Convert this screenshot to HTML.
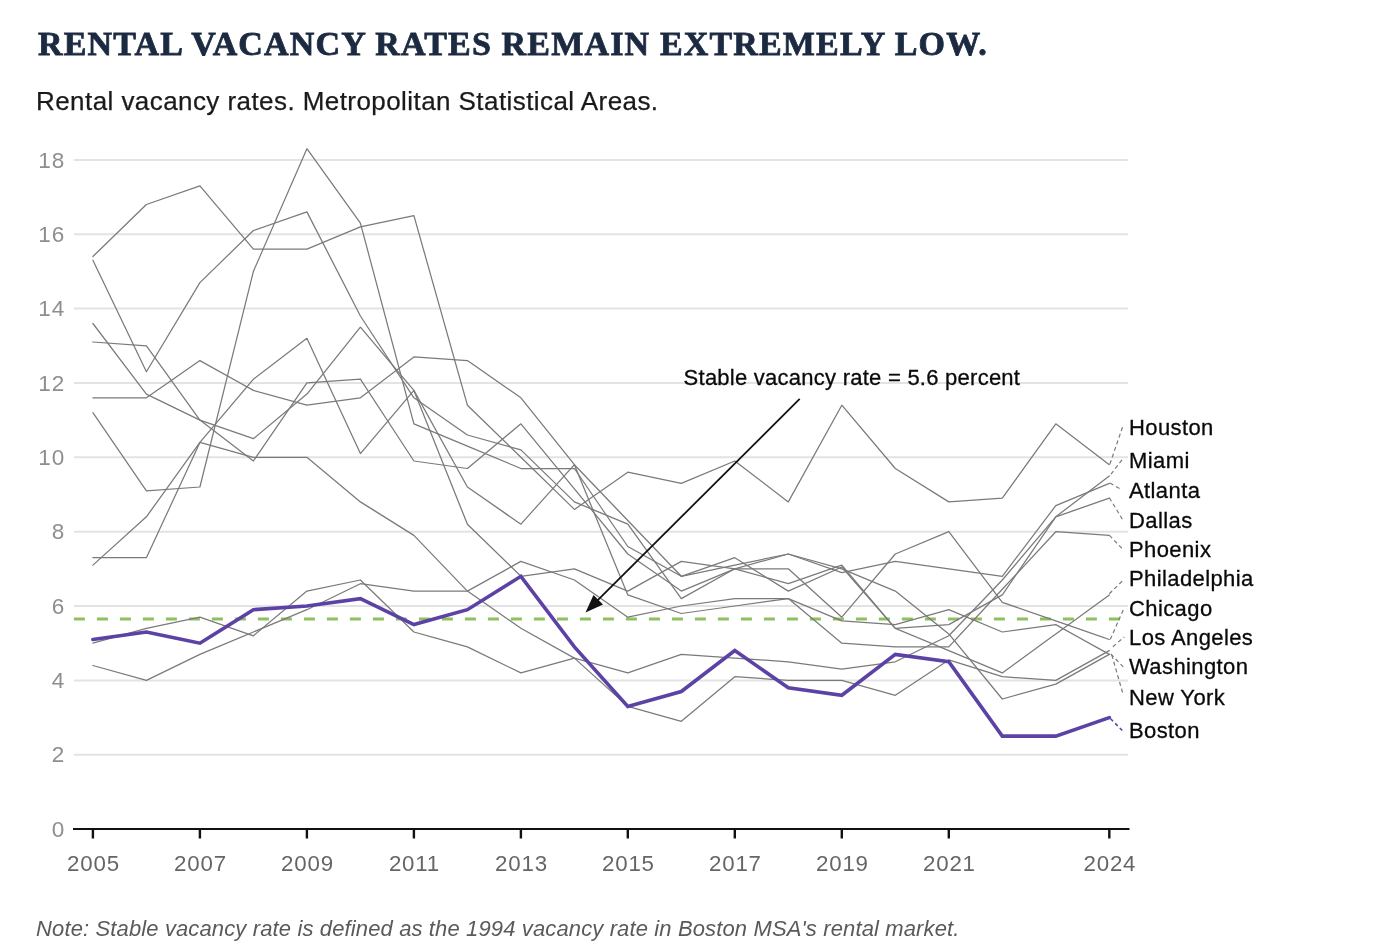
<!DOCTYPE html>
<html><head><meta charset="utf-8"><title>Rental vacancy rates</title>
<style>
html,body{margin:0;padding:0;background:#fff;}
body{width:1379px;height:946px;position:relative;overflow:hidden;font-family:"Liberation Sans",sans-serif;}
#title{position:absolute;left:37.7px;top:24px;font-family:"Liberation Serif",serif;font-weight:bold;font-size:34px;line-height:40px;color:#1c2a41;letter-spacing:1.16px;-webkit-text-stroke:0.8px #1c2a41;white-space:nowrap;}
#sub{position:absolute;left:36px;top:86px;font-size:26px;line-height:30px;letter-spacing:0.43px;-webkit-text-stroke:0.25px #1a1a1a;color:#1a1a1a;white-space:nowrap;}
#note{position:absolute;left:36.2px;top:916.1px;letter-spacing:0.13px;font-size:22px;line-height:26px;font-style:italic;color:#5a5a5a;white-space:nowrap;}
svg{position:absolute;left:0;top:0;will-change:transform;}
#title,#sub,#note{will-change:transform;}
text{font-family:"Liberation Sans",sans-serif;}
.yl{font-size:22.5px;fill:#8e8e8e;letter-spacing:0.9px;}
.xl{font-size:22.3px;fill:#666;letter-spacing:0.8px;}
.lab{font-size:22px;fill:#0a0a0a;stroke:#0a0a0a;stroke-width:0.3px;letter-spacing:0.4px;}
.ann{font-size:22px;fill:#0a0a0a;stroke:#0a0a0a;stroke-width:0.3px;letter-spacing:0.25px;}
</style></head><body>
<div id="title">RENTAL VACANCY RATES REMAIN EXTREMELY LOW.</div>
<div id="sub">Rental vacancy rates. Metropolitan Statistical Areas.</div>
<svg width="1379" height="946" viewBox="0 0 1379 946">
<line x1="74" x2="1128" y1="754.7" y2="754.7" stroke="#e3e3e3" stroke-width="2"/>
<line x1="74" x2="1128" y1="680.4" y2="680.4" stroke="#e3e3e3" stroke-width="2"/>
<line x1="74" x2="1128" y1="606.0" y2="606.0" stroke="#e3e3e3" stroke-width="2"/>
<line x1="74" x2="1128" y1="531.7" y2="531.7" stroke="#e3e3e3" stroke-width="2"/>
<line x1="74" x2="1128" y1="457.3" y2="457.3" stroke="#e3e3e3" stroke-width="2"/>
<line x1="74" x2="1128" y1="382.9" y2="382.9" stroke="#e3e3e3" stroke-width="2"/>
<line x1="74" x2="1128" y1="308.6" y2="308.6" stroke="#e3e3e3" stroke-width="2"/>
<line x1="74" x2="1128" y1="234.2" y2="234.2" stroke="#e3e3e3" stroke-width="2"/>
<line x1="74" x2="1128" y1="159.9" y2="159.9" stroke="#e3e3e3" stroke-width="2"/>
<line x1="73.9" x2="1120" y1="619.1" y2="619.1" stroke="#8fc05f" stroke-width="3" stroke-dasharray="11,12"/>
<path d="M92.9,256.5 L146.4,204.5 L199.9,185.9 L253.4,249.1 L306.9,249.1 L360.4,226.8 L413.9,215.6 L467.4,405.2 L520.9,457.3 L574.4,509.4 L627.8,472.2 L681.3,483.3 L734.8,461.0 L788.3,501.9 L841.8,405.2 L895.3,468.5 L948.8,501.9 L1002.3,498.2 L1055.8,423.8 L1109.3,464.7" fill="none" stroke="#7a7a7a" stroke-width="1.25" stroke-linejoin="round" stroke-linecap="round"/>
<path d="M92.9,260.2 L146.4,371.8 L199.9,282.6 L253.4,230.5 L306.9,211.9 L360.4,316.0 L413.9,397.8 L467.4,435.0 L520.9,449.9 L574.4,501.9 L627.8,524.2 L681.3,598.6 L734.8,568.8 L788.3,583.7 L841.8,565.1 L895.3,628.3 L948.8,624.6 L1002.3,594.9 L1055.8,516.8 L1109.3,475.9" fill="none" stroke="#7a7a7a" stroke-width="1.25" stroke-linejoin="round" stroke-linecap="round"/>
<path d="M92.9,323.5 L146.4,394.1 L199.9,420.1 L253.4,438.7 L306.9,394.1 L360.4,327.2 L413.9,390.4 L467.4,487.0 L520.9,524.2 L574.4,464.7 L627.8,520.5 L681.3,576.3 L734.8,557.7 L788.3,591.1 L841.8,567.0 L895.3,628.3 L948.8,650.6 L1002.3,672.9 L1055.8,633.9 L1109.3,594.9" fill="none" stroke="#7a7a7a" stroke-width="1.25" stroke-linejoin="round" stroke-linecap="round"/>
<path d="M92.9,342.0 L146.4,345.8 L199.9,420.1 L253.4,461.0 L306.9,382.9 L360.4,379.2 L413.9,461.0 L467.4,468.5 L520.9,423.8 L574.4,488.9 L627.8,554.0 L681.3,591.1 L734.8,568.8 L788.3,568.8 L841.8,617.2 L895.3,554.0 L948.8,531.7 L1002.3,602.3 L1055.8,620.9 L1109.3,639.5" fill="none" stroke="#7a7a7a" stroke-width="1.25" stroke-linejoin="round" stroke-linecap="round"/>
<path d="M92.9,397.8 L146.4,397.8 L199.9,360.6 L253.4,390.4 L306.9,405.2 L360.4,397.8 L413.9,356.9 L467.4,360.6 L520.9,397.8 L574.4,464.7 L627.8,594.9 L681.3,613.5 L734.8,606.0 L788.3,598.6 L841.8,643.2 L895.3,646.9 L948.8,646.9 L1002.3,589.3 L1055.8,531.7 L1109.3,535.4" fill="none" stroke="#7a7a7a" stroke-width="1.25" stroke-linejoin="round" stroke-linecap="round"/>
<path d="M92.9,412.7 L146.4,490.8 L199.9,487.0 L253.4,271.4 L306.9,148.7 L360.4,223.1 L413.9,423.8 L467.4,446.1 L520.9,468.5 L574.4,468.5 L627.8,546.5 L681.3,576.3 L734.8,565.1 L788.3,554.0 L841.8,568.8 L895.3,591.1 L948.8,633.9 L1002.3,699.0 L1055.8,684.1 L1109.3,654.4" fill="none" stroke="#7a7a7a" stroke-width="1.25" stroke-linejoin="round" stroke-linecap="round"/>
<path d="M92.9,557.7 L146.4,557.7 L199.9,442.4 L253.4,457.3 L306.9,457.3 L360.4,501.9 L413.9,535.4 L467.4,591.1 L520.9,628.3 L574.4,658.1 L627.8,706.4 L681.3,721.3 L734.8,676.7 L788.3,680.4 L841.8,680.4 L895.3,695.3 L948.8,659.9 L1002.3,676.7 L1055.8,680.4 L1109.3,650.6" fill="none" stroke="#7a7a7a" stroke-width="1.25" stroke-linejoin="round" stroke-linecap="round"/>
<path d="M92.9,565.1 L146.4,516.8 L199.9,442.4 L253.4,379.2 L306.9,338.3 L360.4,453.6 L413.9,390.4 L467.4,524.2 L520.9,576.3 L574.4,568.8 L627.8,591.1 L681.3,561.4 L734.8,568.8 L788.3,554.0 L841.8,572.6 L895.3,561.4 L948.8,568.8 L1002.3,576.3 L1055.8,505.6 L1109.3,483.3" fill="none" stroke="#7a7a7a" stroke-width="1.25" stroke-linejoin="round" stroke-linecap="round"/>
<path d="M92.9,643.2 L146.4,628.3 L199.9,617.2 L253.4,635.8 L306.9,591.1 L360.4,580.0 L413.9,632.0 L467.4,646.9 L520.9,672.9 L574.4,658.1 L627.8,672.9 L681.3,654.4 L734.8,658.1 L788.3,661.8 L841.8,669.2 L895.3,661.8 L948.8,635.8 L1002.3,580.0 L1055.8,516.8 L1109.3,498.2" fill="none" stroke="#7a7a7a" stroke-width="1.25" stroke-linejoin="round" stroke-linecap="round"/>
<path d="M92.9,665.5 L146.4,680.4 L199.9,654.4 L253.4,632.0 L306.9,609.7 L360.4,583.7 L413.9,591.1 L467.4,591.1 L520.9,561.4 L574.4,580.0 L627.8,617.2 L681.3,606.0 L734.8,598.6 L788.3,598.6 L841.8,620.9 L895.3,624.6 L948.8,609.7 L1002.3,632.0 L1055.8,624.6 L1109.3,654.4" fill="none" stroke="#7a7a7a" stroke-width="1.25" stroke-linejoin="round" stroke-linecap="round"/>
<path d="M92.9,639.5 L146.4,632.0 L199.9,643.2 L253.4,609.7 L306.9,606.0 L360.4,598.6 L413.9,624.6 L467.4,609.7 L520.9,576.3 L574.4,646.9 L627.8,706.4 L681.3,691.5 L734.8,650.6 L788.3,687.8 L841.8,695.3 L895.3,654.4 L948.8,661.8 L1002.3,736.1 L1055.8,736.1 L1109.3,717.6" fill="none" stroke="#5c42a5" stroke-width="3.6" stroke-linejoin="miter" stroke-linecap="round"/>
<line x1="1109.9" y1="464.1" x2="1122.9" y2="426.0" stroke="#7a7a7a" stroke-width="1.2" stroke-dasharray="4,3"/>
<line x1="1111.0" y1="474.2" x2="1122.0" y2="459.8" stroke="#7a7a7a" stroke-width="1.2" stroke-dasharray="4,3"/>
<line x1="1109.9" y1="483.0" x2="1120.5" y2="489.0" stroke="#7a7a7a" stroke-width="1.2" stroke-dasharray="4,3"/>
<line x1="1109.4" y1="497.8" x2="1122.9" y2="520.1" stroke="#7a7a7a" stroke-width="1.2" stroke-dasharray="4,3"/>
<line x1="1109.4" y1="535.3" x2="1122.9" y2="549.4" stroke="#7a7a7a" stroke-width="1.2" stroke-dasharray="4,3"/>
<line x1="1109.3" y1="593.8" x2="1123.3" y2="580.0" stroke="#7a7a7a" stroke-width="1.2" stroke-dasharray="4,3"/>
<line x1="1110.3" y1="639.3" x2="1124.3" y2="607.6" stroke="#7a7a7a" stroke-width="1.2" stroke-dasharray="4,3"/>
<line x1="1112.9" y1="646.7" x2="1124.3" y2="637.0" stroke="#7a7a7a" stroke-width="1.2" stroke-dasharray="4,3"/>
<line x1="1110.8" y1="654.0" x2="1124.3" y2="668.0" stroke="#7a7a7a" stroke-width="1.2" stroke-dasharray="4,3"/>
<line x1="1111.8" y1="655.0" x2="1123.3" y2="695.0" stroke="#7a7a7a" stroke-width="1.2" stroke-dasharray="4,3"/>
<line x1="1110.6" y1="718.8" x2="1122.8" y2="731" stroke="#5c42a5" stroke-width="1.6" stroke-dasharray="3.5,3"/>
<line x1="73" x2="1129.5" y1="829" y2="829" stroke="#111" stroke-width="2.2"/>
<line x1="92.9" x2="92.9" y1="828" y2="838.5" stroke="#111" stroke-width="2.4"/>
<line x1="199.9" x2="199.9" y1="828" y2="838.5" stroke="#111" stroke-width="2.4"/>
<line x1="306.9" x2="306.9" y1="828" y2="838.5" stroke="#111" stroke-width="2.4"/>
<line x1="413.9" x2="413.9" y1="828" y2="838.5" stroke="#111" stroke-width="2.4"/>
<line x1="520.9" x2="520.9" y1="828" y2="838.5" stroke="#111" stroke-width="2.4"/>
<line x1="627.8" x2="627.8" y1="828" y2="838.5" stroke="#111" stroke-width="2.4"/>
<line x1="734.8" x2="734.8" y1="828" y2="838.5" stroke="#111" stroke-width="2.4"/>
<line x1="841.8" x2="841.8" y1="828" y2="838.5" stroke="#111" stroke-width="2.4"/>
<line x1="948.8" x2="948.8" y1="828" y2="838.5" stroke="#111" stroke-width="2.4"/>
<line x1="1109.3" x2="1109.3" y1="828" y2="838.5" stroke="#111" stroke-width="2.4"/>
<line x1="799.7" y1="398.9" x2="596.8" y2="601.2" stroke="#111" stroke-width="1.8"/>
<polygon points="585.5,612.5 593.5,595.0 603.0,604.5" fill="#111"/>
<text x="65.2" y="836.7" text-anchor="end" class="yl">0</text>
<text x="65.2" y="762.3" text-anchor="end" class="yl">2</text>
<text x="65.2" y="688.0" text-anchor="end" class="yl">4</text>
<text x="65.2" y="613.6" text-anchor="end" class="yl">6</text>
<text x="65.2" y="539.3" text-anchor="end" class="yl">8</text>
<text x="65.2" y="464.9" text-anchor="end" class="yl">10</text>
<text x="65.2" y="390.5" text-anchor="end" class="yl">12</text>
<text x="65.2" y="316.2" text-anchor="end" class="yl">14</text>
<text x="65.2" y="241.8" text-anchor="end" class="yl">16</text>
<text x="65.2" y="167.5" text-anchor="end" class="yl">18</text>
<text x="93.5" y="871.4" text-anchor="middle" class="xl">2005</text>
<text x="200.5" y="871.4" text-anchor="middle" class="xl">2007</text>
<text x="307.5" y="871.4" text-anchor="middle" class="xl">2009</text>
<text x="414.5" y="871.4" text-anchor="middle" class="xl">2011</text>
<text x="521.5" y="871.4" text-anchor="middle" class="xl">2013</text>
<text x="628.4" y="871.4" text-anchor="middle" class="xl">2015</text>
<text x="735.4" y="871.4" text-anchor="middle" class="xl">2017</text>
<text x="842.4" y="871.4" text-anchor="middle" class="xl">2019</text>
<text x="949.4" y="871.4" text-anchor="middle" class="xl">2021</text>
<text x="1109.9" y="871.4" text-anchor="middle" class="xl">2024</text>
<text x="1129" y="434.9" class="lab">Houston</text>
<text x="1129" y="467.6" class="lab">Miami</text>
<text x="1129" y="498.0" class="lab">Atlanta</text>
<text x="1129" y="528.0" class="lab">Dallas</text>
<text x="1129" y="557.3" class="lab">Phoenix</text>
<text x="1129" y="586.2" class="lab">Philadelphia</text>
<text x="1129" y="615.9" class="lab">Chicago</text>
<text x="1129" y="644.8" class="lab">Los Angeles</text>
<text x="1129" y="674.4" class="lab">Washington</text>
<text x="1129" y="705.2" class="lab">New York</text>
<text x="1129" y="738.3" class="lab">Boston</text>
<text x="683.6" y="384.8" class="ann">Stable vacancy rate = 5.6 percent</text>
</svg>
<div id="note">Note: Stable vacancy rate is defined as the 1994 vacancy rate in Boston MSA's rental market.</div>
</body></html>
